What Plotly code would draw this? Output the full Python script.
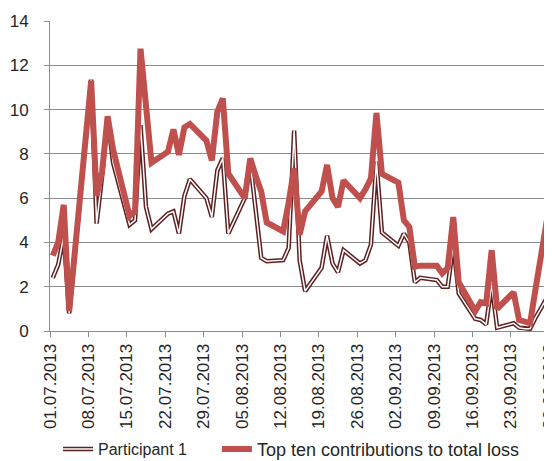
"""
Participant 1 vs top ten contributions to total loss, Jul-Sep 2013.
"""

import plotly.graph_objects as go

COLORS = {
    "participant": "#5e2020",
    "top_ten": "#c0504d",
    "grid": "#8c8c8c",
    "text": "#262626",
}

# business days, plotted mid-day (Excel date axis centres points between ticks)
dates = [
    "2013-07-01", "2013-07-02", "2013-07-03", "2013-07-04", "2013-07-05",
    "2013-07-08", "2013-07-09", "2013-07-10", "2013-07-11", "2013-07-12",
    "2013-07-15", "2013-07-16", "2013-07-17", "2013-07-18", "2013-07-19",
    "2013-07-22", "2013-07-23", "2013-07-24", "2013-07-25", "2013-07-26",
    "2013-07-29", "2013-07-30", "2013-07-31", "2013-08-01", "2013-08-02",
    "2013-08-05", "2013-08-06", "2013-08-07", "2013-08-08", "2013-08-09",
    "2013-08-12", "2013-08-13", "2013-08-14", "2013-08-15", "2013-08-16",
    "2013-08-19", "2013-08-20", "2013-08-21", "2013-08-22", "2013-08-23",
    "2013-08-26", "2013-08-27", "2013-08-28", "2013-08-29", "2013-08-30",
    "2013-09-02", "2013-09-03", "2013-09-04", "2013-09-05", "2013-09-06",
    "2013-09-09", "2013-09-10", "2013-09-11", "2013-09-12", "2013-09-13",
    "2013-09-16", "2013-09-17", "2013-09-18", "2013-09-19", "2013-09-20",
    "2013-09-23", "2013-09-24", "2013-09-25", "2013-09-26", "2013-09-27",
    "2013-09-30",
]

participant_1 = [
    2.4, 3.0, 4.3, 0.8, 3.4,
    11.35, 4.85, 7.0, 9.6, 7.6,
    4.8, 5.0, 9.3, 5.6, 4.6,
    5.3, 5.4, 4.4, 6.1, 6.85,
    6.0, 5.15, 7.25, 7.8, 4.4,
    6.0, 7.6, 5.3, 3.3, 3.15,
    3.2, 3.75, 9.05, 3.2, 1.8,
    2.85, 4.3, 3.05, 2.65, 3.65,
    3.05, 3.2, 3.9, 7.65, 4.45,
    3.85, 4.4, 4.0, 2.2, 2.4,
    2.3, 2.0, 2.0, 3.9, 1.7,
    0.55, 0.5, 0.3, 2.1, 0.15,
    0.35, 0.15, 0.1, 0.1, 0.6,
    1.9,
]

top_ten = [
    3.4, 4.0, 5.7, 0.9, 3.5,
    11.3, 6.1, 7.2, 9.7, 8.2,
    5.2, 5.4, 12.75, 10.1, 7.6,
    8.1, 9.1, 7.95, 9.2, 9.35,
    8.6, 7.7, 9.9, 10.5, 7.1,
    6.0, 7.8, 7.0, 6.3, 4.9,
    4.5, 5.8, 7.35, 4.35, 5.4,
    6.3, 7.5, 6.0, 5.6, 6.8,
    6.0, 6.4, 6.9, 9.85, 7.1,
    6.7, 5.0, 4.7, 2.9, 2.95,
    2.95, 2.6, 2.85, 5.15, 2.2,
    0.9, 1.3, 1.25, 3.65, 1.0,
    1.75, 0.5, 0.4, 0.35, 1.9,
    6.4,
]

x_mid = [d + " 12:00" for d in dates]

fig = go.Figure()
# double line: dark outline + white core
fig.add_trace(
    go.Scatter(
        x=x_mid, y=participant_1, mode="lines", name="Participant 1",
        line=dict(color=COLORS["participant"], width=4.5), legend="legend",
    )
)
# white core; its legend entry sits on top of the first one (invisible text)
fig.add_trace(
    go.Scatter(
        x=x_mid, y=participant_1, mode="lines", name="Participant 1",
        line=dict(color="white", width=1.5), hoverinfo="skip", legend="legend3",
    )
)
fig.add_trace(
    go.Scatter(
        x=x_mid, y=top_ten, mode="lines", name="Top ten contributions to total loss",
        line=dict(color=COLORS["top_ten"], width=6), legend="legend2",
    )
)

legend_1 = dict(
    xref="container", yref="container", x=0.092, xanchor="left",
    y=0.026, yanchor="middle", font=dict(size=16),
)

# page body adds an 8px offset, so the figure is 8px smaller than the window
fig.update_layout(
    width=544,
    height=453,
    plot_bgcolor="white",
    paper_bgcolor="white",
    font=dict(family="Liberation Sans, Arial, sans-serif", size=16, color=COLORS["text"]),
    margin=dict(l=42, r=0, t=13, b=130, autoexpand=False),
    showlegend=True,
    legend=legend_1,
    legend3=dict(
        legend_1, bgcolor="rgba(0,0,0,0)",
        font=dict(size=16, color="rgba(0,0,0,0)"),
    ),
    legend2=dict(
        xref="container", yref="container", x=0.384, xanchor="left",
        y=0.026, yanchor="middle", font=dict(size=18),
    ),
)
fig.update_xaxes(
    type="date",
    range=["2013-07-01", "2013-09-30 12:00"],
    tick0="2013-07-01",
    dtick=7 * 24 * 3600 * 1000,
    tickformat="%d.%m.%Y",
    tickangle=-90,
    ticks="outside",
    ticklen=5,
    tickcolor=COLORS["grid"],
    showline=True,
    linecolor=COLORS["grid"],
    showgrid=False,
    zeroline=False,
    automargin=False,
    ticklabeloverflow="allow",
    tickfont=dict(size=17),
)
fig.update_yaxes(
    range=[0, 14],
    dtick=2,
    ticks="outside",
    ticklen=5,
    tickcolor=COLORS["grid"],
    showline=True,
    linecolor=COLORS["grid"],
    showgrid=True,
    gridcolor=COLORS["grid"],
    gridwidth=1,
    zeroline=False,
    automargin=False,
    ticklabelstandoff=12,
    tickfont=dict(size=17),
)

fig.write_html("out.html")
